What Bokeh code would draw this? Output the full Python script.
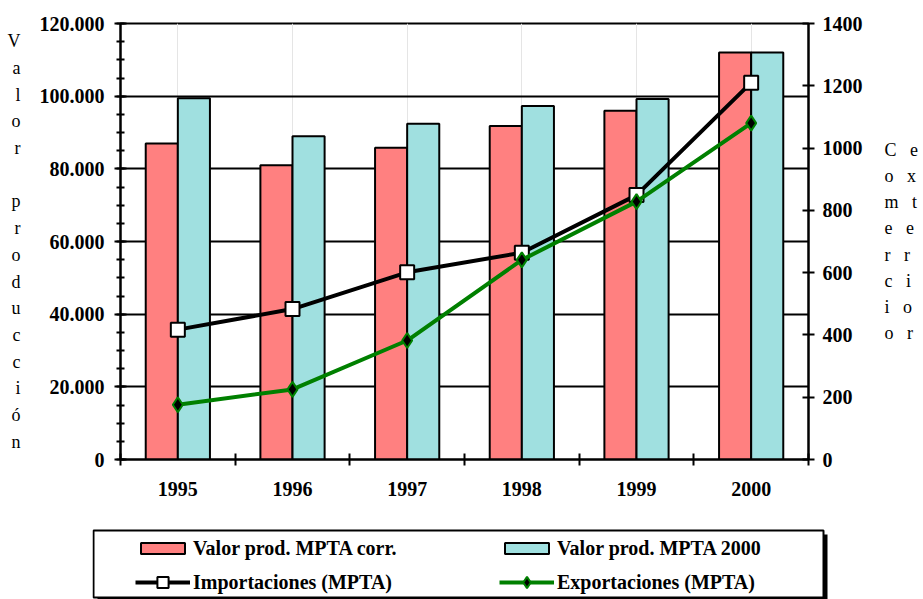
from bokeh.plotting import figure
from bokeh.layouts import column
from bokeh.models import (FactorRange, Range1d, LinearAxis, CategoricalAxis, FixedTicker,
                          CustomJSTickFormatter, Legend, LegendItem, BoxAnnotation,
                          ColumnDataSource)
from bokeh.transform import dodge
from bokeh.embed import file_html
from bokeh.resources import INLINE

# ---- data ----
years = ["1995", "1996", "1997", "1998", "1999", "2000"]
valor_corr = [87000, 81000, 85800, 91800, 96000, 112000]
valor_2000 = [99400, 89000, 92400, 97300, 99200, 112000]
importaciones = [417, 483, 601, 664, 849, 1210]
exportaciones = [176, 225, 382, 641, 828, 1080]
left_ticks = [0, 20000, 40000, 60000, 80000, 100000, 120000]
left_minor = list(range(0, 120001, 5000))
right_ticks = [0, 200, 400, 600, 800, 1000, 1200, 1400]
left_title = "Valor producción"
right_title = ["Comercio", "exterior"]
series_labels = ["Valor prod. MPTA corr.", "Valor prod. MPTA 2000",
                 "Importaciones (MPTA)", "Exportaciones (MPTA)"]

FONT = "Liberation Serif"
RED = "#FF8080"
CYAN = "#A0E0E0"
GREEN = "#008000"
W = 923
NBSP = "\u00a0"

source = ColumnDataSource(dict(years=years, corr=valor_corr, v2000=valor_2000,
                               imp=importaciones, exp=exportaciones))


def style_bold_labels(ax):
    ax.major_label_text_font = FONT
    ax.major_label_text_font_style = "bold"
    ax.major_label_text_font_size = "20px"
    ax.major_label_text_color = "black"


# ================= main chart =================
p = figure(x_range=FactorRange(*years, range_padding=0),
           y_range=Range1d(left_ticks[0], left_ticks[-1]),
           width=W, height=520, output_backend="svg", toolbar_location=None,
           x_axis_location=None,
           min_border_left=120, min_border_right=115, min_border_top=23, min_border_bottom=61)
p.extra_y_ranges = {"trade": Range1d(right_ticks[0], right_ticks[-1])}
p.outline_line_color = "black"
p.outline_line_width = 2
p.background_fill_color = "white"
p.border_fill_color = "white"

# left axis
ya = p.yaxis[0]
ya.ticker = FixedTicker(ticks=left_ticks, minor_ticks=left_minor)
ya.formatter = CustomJSTickFormatter(code="return tick.toFixed(0).replace(/\\B(?=(\\d{3})+(?!\\d))/g, '.');")
ya.major_tick_in = 6
ya.major_tick_out = 6
ya.minor_tick_in = 4
ya.minor_tick_out = 4
ya.axis_line_width = 2
ya.major_tick_line_width = 2
ya.minor_tick_line_width = 2
ya.major_label_standoff = 10
style_bold_labels(ya)

p.ygrid.ticker = FixedTicker(ticks=left_ticks)
p.ygrid.grid_line_color = "black"
p.ygrid.grid_line_width = 2
p.ygrid.grid_line_alpha = 1

# right axis
ra = LinearAxis(y_range_name="trade", ticker=FixedTicker(ticks=right_ticks))
ra.major_tick_in = 6
ra.major_tick_out = 6
ra.minor_tick_in = 0
ra.minor_tick_out = 0
ra.axis_line_width = 2
ra.major_tick_line_width = 2
ra.major_label_standoff = 8
style_bold_labels(ra)
p.add_layout(ra, "right")

# stacked (letter-per-line) axis titles
ya.axis_label = "\n".join(left_title)
right_lines = []
for i in range(max(len(w) for w in right_title)):
    right_lines.append((NBSP * 3).join(w[i] if i < len(w) else NBSP for w in right_title))
ra.axis_label = "\n".join(right_lines)
for ax, standoff, lh in ((ya, 16, 1.335), (ra, 19, 1.31)):
    if "axis_label_orientation" in ax.properties():
        ax.axis_label_orientation = "horizontal"
    ax.axis_label_standoff = standoff
    ax.axis_label_text_font = FONT
    ax.axis_label_text_font_style = "normal"
    ax.axis_label_text_font_size = "18px"
    ax.axis_label_text_line_height = lh
    ax.axis_label_text_color = "black"
ra.axis_label_text_align = "left"

# bottom: ticks at category boundaries (synthetic coordinates), then category labels
ta = LinearAxis(ticker=FixedTicker(ticks=list(range(len(years) + 1))),
                formatter=CustomJSTickFormatter(code="return '';"))
ta.major_tick_in = 6
ta.major_tick_out = 6
ta.minor_tick_in = 0
ta.minor_tick_out = 0
ta.axis_line_width = 2
ta.major_tick_line_width = 2
ta.major_label_standoff = 0
p.add_layout(ta, "below")

ca = CategoricalAxis()
ca.axis_line_color = None
ca.major_tick_line_color = None
ca.major_tick_in = 0
ca.major_tick_out = 0
ca.major_label_standoff = 16
style_bold_labels(ca)
p.add_layout(ca, "below")

# bars
bar_kw = dict(width=0.28, source=source, line_color="black", line_width=2)
p.vbar(x=dodge("years", -0.14, range=p.x_range), top="corr", fill_color=RED, **bar_kw)
p.vbar(x=dodge("years", 0.14, range=p.x_range), top="v2000", fill_color=CYAN, **bar_kw)

# lines
imp_line = dict(line_color="black", line_width=4)
imp_mark = dict(marker="square", size=14, fill_color="white", line_color="black", line_width=2)
exp_line = dict(line_color=GREEN, line_width=4)
exp_mark = dict(marker="diamond", size=15, fill_color="black", line_color=GREEN, line_width=2)
p.line(x="years", y="imp", y_range_name="trade", source=source, **imp_line)
p.scatter(x="years", y="imp", y_range_name="trade", source=source, **imp_mark)
p.line(x="years", y="exp", y_range_name="trade", source=source, **exp_line)
p.scatter(x="years", y="exp", y_range_name="trade", source=source, **exp_mark)

# ================= legend strip =================
lg = figure(x_range=FactorRange(*years), y_range=Range1d(0, 1),
            frame_width=740, frame_height=71, output_backend="svg", toolbar_location=None,
            x_axis_location=None, y_axis_location=None,
            min_border_left=92, min_border_right=W - 92 - 740, min_border_top=8, min_border_bottom=0)
for fig in (p, lg):
    if "frame_align" in fig.properties():
        fig.frame_align = False
lg.outline_line_color = None
lg.xgrid.visible = False
lg.ygrid.visible = False
lg.background_fill_color = "white"
lg.border_fill_color = "white"

# legend keys (renderers hidden; only used for the legend swatches)
r1 = lg.vbar(x="years", top="corr", fill_color=RED, visible=False, **bar_kw)
r2 = lg.vbar(x="years", top="v2000", fill_color=CYAN, visible=False, **bar_kw)
r3a = lg.line(x="years", y="imp", source=source, visible=False, **imp_line)
r3b = lg.scatter(x="years", y="imp", source=source, visible=False, **imp_mark)
r4a = lg.line(x="years", y="exp", source=source, visible=False, **exp_line)
r4b = lg.scatter(x="years", y="exp", source=source, visible=False, **exp_mark)

shadow = BoxAnnotation(left=5, right=735, top=65, bottom=-4,
                       left_units="screen", right_units="screen", top_units="screen", bottom_units="screen",
                       fill_color="black", fill_alpha=1, line_alpha=0)
box = BoxAnnotation(left=1, right=731, top=69, bottom=2,
                    left_units="screen", right_units="screen", top_units="screen", bottom_units="screen",
                    fill_color="white", fill_alpha=1, line_color="black", line_width=2, line_alpha=1)
lg.add_layout(shadow)
lg.add_layout(box)


def make_legend(items, y, gh):
    return Legend(items=items, orientation="horizontal", location=(43, y),
                  glyph_width=55, glyph_height=gh, label_standoff=3, label_width=286,
                  label_height=24, spacing=20, padding=0, margin=0,
                  border_line_alpha=0, background_fill_alpha=0, click_policy="none",
                  label_text_font=FONT, label_text_font_style="bold",
                  label_text_font_size="20px", label_text_color="black")


lg.add_layout(make_legend([LegendItem(label=series_labels[0], renderers=[r1]),
                           LegendItem(label=series_labels[1], renderers=[r2])], 39, 14))
lg.add_layout(make_legend([LegendItem(label=series_labels[2], renderers=[r3a, r3b]),
                           LegendItem(label=series_labels[3], renderers=[r4a, r4b])], 3, 28))

layout = column(p, lg, spacing=0)
open("out.html", "w").write(file_html(layout, INLINE))
